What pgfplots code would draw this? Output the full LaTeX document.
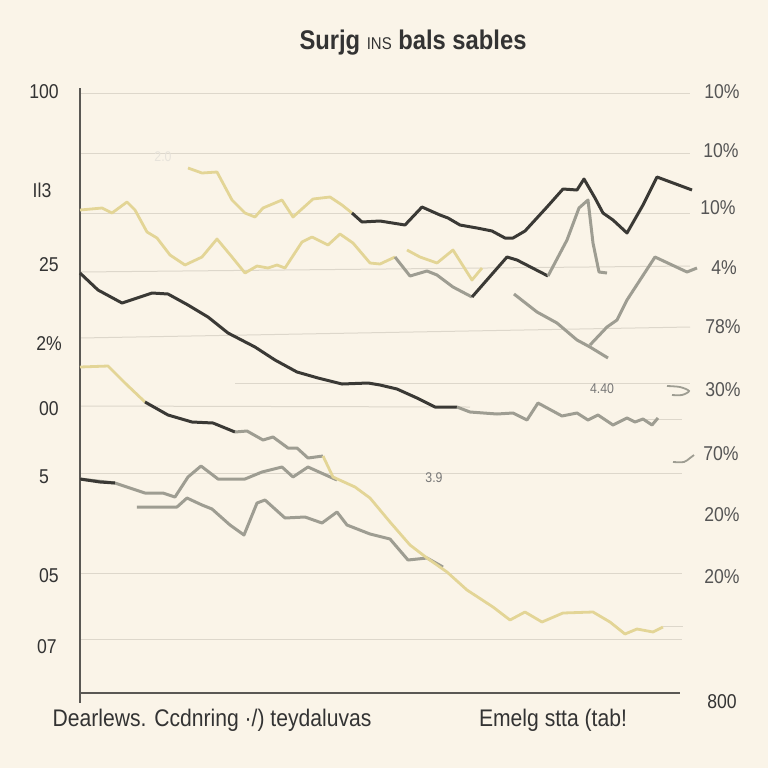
\documentclass[border=0pt]{standalone}
\usepackage{pgfplots}
\pgfplotsset{compat=1.18}
\usetikzlibrary{backgrounds}
\usepackage{fontspec}
\setmainfont{Liberation Sans}[FakeStretch=0.88]

\definecolor{paper}{HTML}{FAF4E8}
\definecolor{inkdark}{HTML}{3A3935}
\definecolor{inkgray}{HTML}{9E9D92}
\definecolor{inkyellow}{HTML}{E3D596}
\definecolor{gridc}{HTML}{DDD7CB}
\definecolor{spine}{HTML}{5A5854}
\definecolor{lbl}{HTML}{333333}
\definecolor{rlbl}{HTML}{555555}

\pgfplotsset{
  dk/.style={inkdark, line width=1.5pt, line join=round, no markers},
  gy/.style={inkgray, line width=1.5pt, line join=round, no markers},
  yl/.style={inkyellow, line width=1.4pt, line join=round, no markers},
}

\begin{document}
\begin{tikzpicture}
\begin{axis}[
  scale only axis, width=300pt, height=302.5pt,
  xmin=80, xmax=680, ymin=88, ymax=693, y dir=reverse,
  hide axis, clip=false,
]
\coordinate (pTL) at (axis cs:0,0);
\coordinate (pBR) at (axis cs:768,768);

% horizontal rules
\draw[gridc, line width=0.5pt] (axis cs:80,93) -- (axis cs:690,93);
\draw[gridc, line width=0.5pt] (axis cs:80,153) -- (axis cs:690,153);
\draw[gridc, line width=0.5pt] (axis cs:80,213) -- (axis cs:690,213);
\draw[gridc, line width=0.5pt] (axis cs:80,272) -- (axis cs:690,266);
\draw[gridc, line width=0.5pt] (axis cs:80,338) -- (axis cs:690,327);
\draw[gridc, line width=0.5pt] (axis cs:235,383) -- (axis cs:690,383);
\draw[gridc, line width=0.5pt] (axis cs:80,406) -- (axis cs:470,407);
\draw[gridc, line width=0.5pt] (axis cs:640,419) -- (axis cs:682,419);
\draw[gridc, line width=0.5pt] (axis cs:80,473) -- (axis cs:682,473);
\draw[gridc, line width=0.5pt] (axis cs:80,573) -- (axis cs:682,573);
\draw[gridc, line width=0.5pt] (axis cs:80,639) -- (axis cs:682,639);
\draw[gridc, line width=0.5pt] (axis cs:663,626) -- (axis cs:683,626);

% spines
\draw[spine, line width=0.9pt] (axis cs:80,88) -- (axis cs:80,703);
\draw[spine, line width=0.9pt] (axis cs:80,693) -- (axis cs:680,693);

% upper series
\addplot[yl] coordinates {(188,168)(202,173)(217,172)(232,200)(245,213)(255,217)(263,208)(282,200)(293,217)(313,199)(330,197)(342,205)(352,213)};
\addplot[dk] coordinates {(352,213)(362,222)(380,221)(405,225)(422,207)(440,215)(448,218)(460,225)(477,228)(492,231)(505,238)(513,238)(525,231)(547,207)(563,189)(577,190)(584,179)(595,198)(603,213)(613,220)(627,233)(643,205)(657,177)(692,190)};

% second series
\addplot[yl] coordinates {(80,210)(102,208)(112,213)(127,202)(135,210)(147,232)(157,238)(170,255)(185,265)(202,257)(217,239)(232,257)(245,273)(257,266)(268,268)(277,265)(285,268)(302,242)(312,237)(328,245)(340,234)(353,243)(370,263)(380,264)(395,257)};
\addplot[yl] coordinates {(407,250)(420,257)(437,263)(453,250)(472,280)(482,268)};
\addplot[gy] coordinates {(395,257)(410,276)(427,271)(437,275)(453,287)(472,297)};
\addplot[dk] coordinates {(472,297)(507,257)(517,260)(548,276)};
\addplot[gy] coordinates {(548,276)(567,240)(579,208)(588,200)(593,243)(599,272)(607,273)};
\addplot[gy] coordinates {(514,294)(537,312)(557,323)(577,340)(590,347)(608,358)};
\addplot[gy] coordinates {(590,345)(607,327)(617,320)(627,300)(655,257)(687,272)(697,268)};

% middle series
\addplot[dk] coordinates {(80,273)(98,290)(122,303)(152,293)(168,294)(188,305)(208,317)(228,333)(255,347)(275,360)(297,372)(318,378)(342,384)(368,383)(380,385)(397,389)(417,398)(435,407)(457,407)};
\addplot[gy] coordinates {(457,407)(470,412)(497,414)(513,413)(527,420)(538,403)(562,416)(577,413)(588,420)(598,415)(613,425)(627,418)(635,422)(643,419)(652,425)(658,418)};

% lower series
\addplot[yl] coordinates {(80,367)(108,366)(125,383)(145,402)};
\addplot[dk] coordinates {(145,402)(168,415)(192,422)(213,423)(235,432)};
\addplot[gy] coordinates {(235,432)(247,431)(263,440)(273,437)(288,448)(297,448)(308,458)(323,456)};
\addplot[gy] coordinates {(80,479)(115,483)(145,493)(163,493)(175,497)(188,477)(201,466)(218,479)(245,479)(262,472)(282,467)(293,477)(308,467)(328,476)(337,480)};
\addplot[dk] coordinates {(80,479)(100,482)(115,483)};
\addplot[gy] coordinates {(137,507)(177,507)(187,498)(202,505)(212,509)(230,525)(244,535)(257,503)(265,500)(285,518)(305,517)(322,523)(337,512)(347,525)(370,534)(390,539)(408,560)(427,558)(443,567)};
\addplot[yl] coordinates {(323,456)(333,477)(355,487)(370,498)(390,522)(410,545)(427,558)(447,572)(467,590)(493,607)(510,620)(525,612)(542,622)(563,613)(593,612)(610,622)(625,634)(637,629)(653,632)(663,627)};

% small flourishes at the right edge
\addplot[inkgray, line width=0.9pt, smooth, no markers] coordinates {(667,386)(680,387)(689,391)(682,395)(672,395)};
\addplot[inkgray, line width=0.9pt, smooth, no markers] coordinates {(673,462)(684,462)(690,458)(694,455)};

% text
\node[font=\fontsize{13.5}{16}\selectfont\bfseries, text=lbl] at (axis cs:413,43) {Surjg {\fontsize{8.5}{9}\selectfont\mdseries INS} bals sables};

\node[font=\fontsize{10}{12}\selectfont, text=lbl] at (axis cs:44,92) {100};
\node[font=\fontsize{10}{12}\selectfont, text=lbl] at (axis cs:42,190) {Il3};
\node[font=\fontsize{10}{12}\selectfont, text=lbl] at (axis cs:49,265) {25};
\node[font=\fontsize{10}{12}\selectfont, text=lbl] at (axis cs:49,344) {2\%};
\node[font=\fontsize{10}{12}\selectfont, text=lbl] at (axis cs:49,409) {00};
\node[font=\fontsize{10}{12}\selectfont, text=lbl] at (axis cs:44,477) {5};
\node[font=\fontsize{10}{12}\selectfont, text=lbl] at (axis cs:49,576) {05};
\node[font=\fontsize{10}{12}\selectfont, text=lbl] at (axis cs:47,647) {07};

\node[font=\fontsize{10}{12}\selectfont, text=rlbl] at (axis cs:722,92) {10\%};
\node[font=\fontsize{10}{12}\selectfont, text=rlbl] at (axis cs:721,151) {10\%};
\node[font=\fontsize{10}{12}\selectfont, text=rlbl] at (axis cs:718,208) {10\%};
\node[font=\fontsize{10}{12}\selectfont, text=rlbl] at (axis cs:724,268) {4\%};
\node[font=\fontsize{10}{12}\selectfont, text=rlbl] at (axis cs:723,327) {78\%};
\node[font=\fontsize{10}{12}\selectfont, text=rlbl] at (axis cs:723,390) {30\%};
\node[font=\fontsize{10}{12}\selectfont, text=rlbl] at (axis cs:721,454) {70\%};
\node[font=\fontsize{10}{12}\selectfont, text=rlbl] at (axis cs:722,515) {20\%};
\node[font=\fontsize{10}{12}\selectfont, text=rlbl] at (axis cs:722,577) {20\%};
\node[font=\fontsize{10}{12}\selectfont, text=lbl] at (axis cs:722,702) {800};

\node[font=\fontsize{7}{8}\selectfont, text=rlbl!80] at (axis cs:602,389) {4.40};
\node[font=\fontsize{7}{8}\selectfont, text=rlbl!80] at (axis cs:434,478) {3.9};
\node[font=\fontsize{7}{8}\selectfont, text=gridc!70] at (axis cs:163,157) {2.0};

\node[font=\fontsize{12}{14}\selectfont, text=lbl] at (axis cs:212,720) {Dearlews. Ccdnring ·/) teydaluvas};
\node[font=\fontsize{12}{14}\selectfont, text=lbl] at (axis cs:553,720) {Emelg stta (tab!};
\end{axis}
\pgfresetboundingbox
\path[use as bounding box] (pTL) rectangle (pBR);
\begin{scope}[on background layer]
  \fill[paper] (pTL) rectangle (pBR);
\end{scope}
\end{tikzpicture}
\end{document}
